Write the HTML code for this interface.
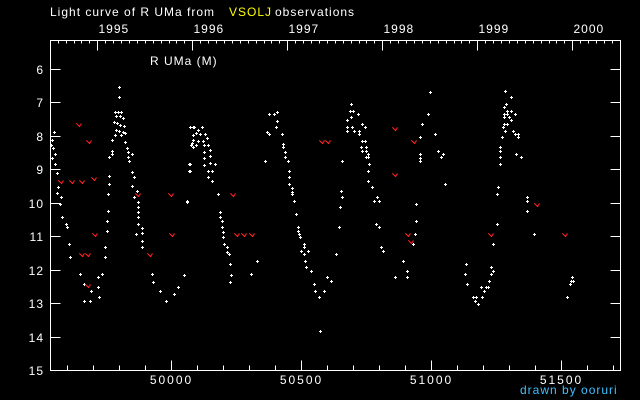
<!DOCTYPE html>
<html><head><meta charset="utf-8"><style>
html,body{margin:0;padding:0;background:#000;}
svg{display:block;}
text{font-family:"Liberation Sans",sans-serif;font-size:12px;fill:#fff;letter-spacing:1px;}
</style></head><body>
<svg id="s" width="640" height="400" xmlns="http://www.w3.org/2000/svg" shape-rendering="crispEdges">
<rect width="640" height="400" fill="#000"/>
<text x="50" y="16">Light curve of R UMa from</text>
<text x="229" y="16" style="fill:#ffff00">VSOLJ</text>
<text x="275" y="16">observations</text>
<text x="150" y="65">R UMa (M)</text>
<text x="520" y="394" style="fill:#40c0ff">drawn by ooruri</text>
<g id="ax" stroke="#fff" stroke-width="1" fill="none"></g>
<g id="tx"></g>
<g id="pts" fill="#fff"></g>
<g id="red" stroke="#ff2020" fill="none" stroke-width="1"></g>
</svg>
<script>
var NS="http://www.w3.org/2000/svg";
function el(p,t,a){var e=document.createElementNS(NS,t);for(var k in a)e.setAttribute(k,a[k]);document.getElementById(p).appendChild(e);return e;}
function ln(x1,y1,x2,y2){el("ax","line",{x1:x1,y1:y1,x2:x2,y2:y2});}
var L=50.5,R=620.5,T=40.5,B=370.5;
el("ax","rect",{x:L,y:T,width:R-L,height:B-T});
for(var m=6;m<=15;m++){var y=Math.round(69+(m-6)*33.45)+0.5;ln(L,y,L+10,y);ln(R,y,R-10,y);
 var t=el("tx","text",{x:44,y:y+4.5,"text-anchor":"end"});t.textContent=m;}
for(var d=49600;d<=51700;d+=100){var x=Math.round(171+(d-50000)*0.26)+0.5;var maj=d%500==0;ln(x,B,x,B-(maj?10:5));
 if(maj){var t=el("tx","text",{x:x,y:384,"text-anchor":"middle","style":"letter-spacing:2px"});t.textContent=d;}}
var yrs=[1995,1996,1997,1998,1999,2000];
for(var i=0;i<yrs.length;i++){var x=Math.round(97.3+i*95)+0.5;ln(x,T,x,T+10);
 var t=el("tx","text",{x:x+1,y:33});t.textContent=yrs[i];
 for(var mo=-11;mo<12;mo++){if(mo==0)continue;var xm=Math.round(97.3+i*95+mo*95/12)+0.5;if(xm>L&&xm<R)ln(xm,T,xm,T+3);}}
var P=[[119,87],[119,97],[115,112],[118,112],[121,112],[116,116],[120,116],[123,118],[114,122],[117,123],[120,125],[124,126],[116,130],[119,131],[123,132],[115,135],[121,135],[125,133],
[54,132],[52,140],[51,145],[53,148],[55,154],[52,158],[55,164],[57,173],[58,187],[57,193],[61,197],[60,204],[62,217],[66,224],[67,227],[69,244],[70,257],[80,274],[84,284],[91,291],[84,301],[90,301],[98,277],[98,287],[102,274],[99,297],[105,257],[105,247],[107,231],[107,221],[108,211],[108,194],[109,184],[109,176],[112,154],[109,157],[112,151],[112,140],
[125,142],[127,148],[128,152],[128,157],[132,154],[129,161],[132,172],[134,177],[132,186],[137,191],[134,197],[138,202],[138,207],[138,212],[138,217],[138,224],[142,228],[142,233],[136,234],[142,241],[142,247],[152,274],[153,282],[160,291],[166,301],[174,294],[178,287],[184,275],[187,202],[189,171],[190,164],[192,143],[193,127],[193,135],[193,147],
[190,127],[194,127],[198,130],[202,127],[196,133],[200,134],[205,134],[193,140],[198,141],[203,141],[207,138],[191,145],[196,145],[204,145],[208,145],
[204,152],[204,158],[204,165],[210,150],[210,156],[210,163],[215,164],[189,164],[190,171],[208,171],[212,171],[208,177],[212,181],[218,194],[187,201],[220,212],[220,217],[222,221],[222,227],[223,232],[223,237],[224,244],[227,247],[227,252],[229,254],[230,264],[231,275],[230,282],[184,275],[251,274],[257,261],
[277,112],[269,114],[274,114],[277,121],[276,127],[267,132],[269,134],[282,134],[283,144],[283,147],[285,152],[285,157],[288,161],[265,161],[289,171],[289,177],[289,184],[292,188],[292,192],[292,194],[294,201],[296,214],[298,227],[298,231],[299,234],[300,237],[304,244],[304,247],[301,251],[308,251],[304,254],[305,261],[306,267],[311,271],[314,284],[315,291],[319,297],[324,291],[327,277],[331,281],[336,254],[320,331],[339,227],
[351,104],[350,111],[353,111],[351,117],[358,114],[347,120],[362,124],[347,127],[352,127],[365,127],[347,131],[354,131],[359,131],[359,134],[362,141],[365,141],[361,147],[366,147],[362,151],[366,151],[368,154],[368,157],[366,157],[342,161],[369,164],[368,171],[368,181],[372,187],[341,191],[342,197],[340,207],[339,227],[331,281],[377,197],[379,201],[374,201],[376,224],[379,227],[381,247],[383,251],[403,261],[395,277],[407,271],[407,277],[416,204],[416,221],[415,234],[413,244],
[430,92],[428,114],[422,124],[435,134],[420,137],[420,154],[420,158],[420,161],[438,151],[443,154],[441,157],[445,184],[466,264],[465,274],[467,284],[473,297],[475,301],[478,304],
[505,91],[511,97],[506,104],[504,107],[507,111],[511,111],[504,114],[507,114],[515,114],[504,117],[509,117],[511,120],[504,124],[507,124],[503,127],[505,131],[513,131],[515,134],[518,134],[518,137],[502,137],[500,147],[500,151],[500,157],[516,154],[521,157],[500,164],[498,187],[497,194],[527,197],[527,201],[527,211],[497,224],[493,244],[534,234],
[491,267],[493,271],[491,274],[489,281],[481,287],[486,287],[488,287],[484,291],[482,297],[476,297],[572,277],[571,281],[573,281],[570,284],[567,297]];
P.forEach(function(p){var x=p[0],y=p[1];el("pts","rect",{x:x-1,y:y,width:3,height:1});el("pts","rect",{x:x,y:y-1,width:1,height:3});});
var Rd=[[79,125],[89,142],[61,182],[72,182],[82,182],[94,179],[138,195],[171,195],[95,235],[172,235],[82,255],[88,255],[150,255],[88,286],[233,195],[237,235],[244,235],[252,235],[322,142],[328,142],[395,129],[414,142],[395,175],[408,235],[411,242],[537,205],[491,235],[565,235]];
Rd.forEach(function(p){var x=p[0],y=p[1];el("red","polyline",{points:(x-2.5)+","+(y-1.5)+" "+(x+0.5)+","+(y+1.5)+" "+(x+2.5)+","+(y-1.5)});});
</script>
</body></html>
